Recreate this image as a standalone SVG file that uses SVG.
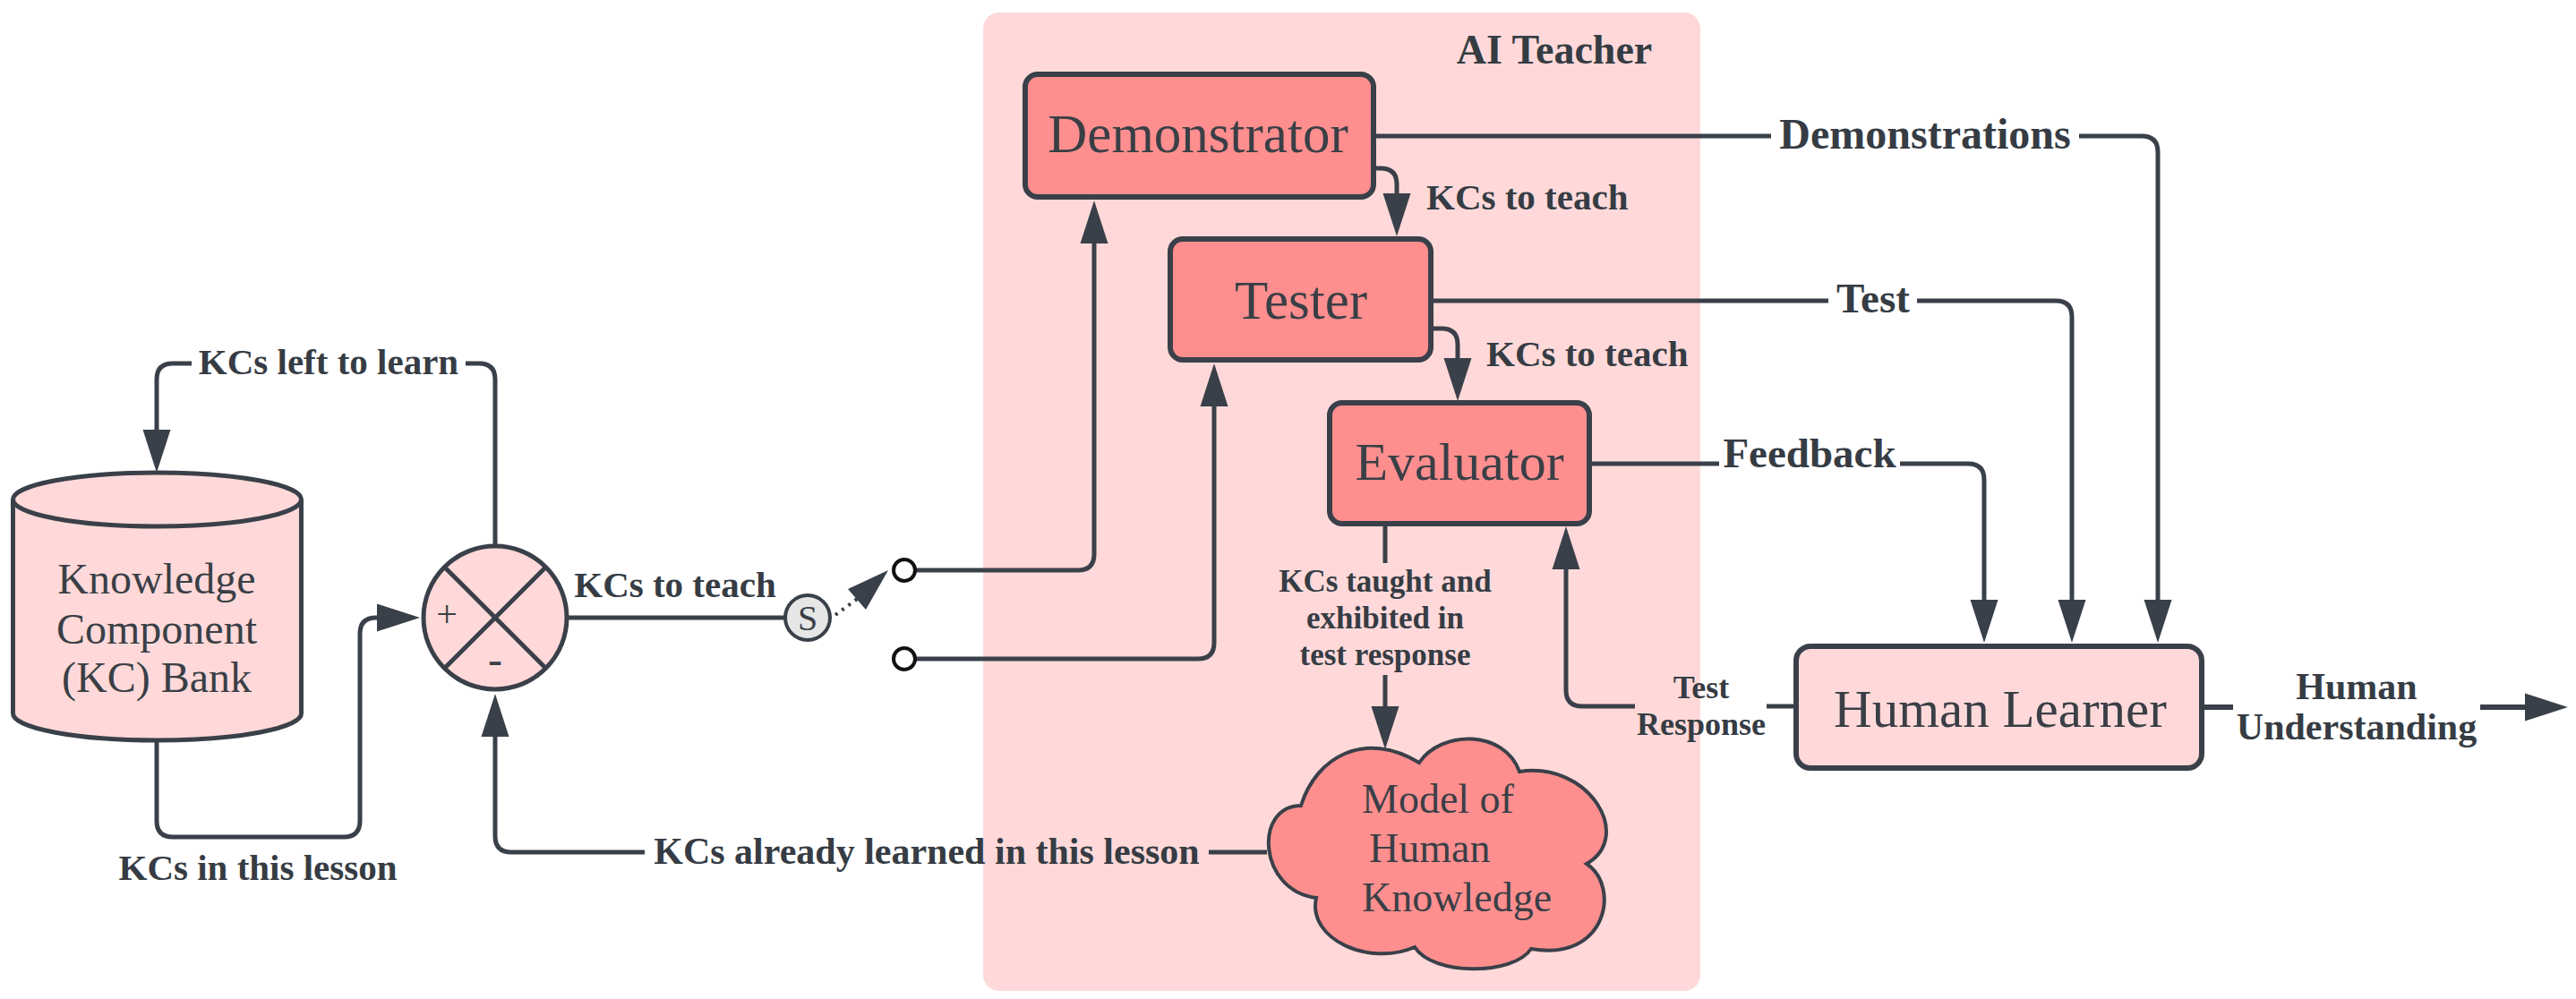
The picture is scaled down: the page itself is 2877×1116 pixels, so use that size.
<svg xmlns="http://www.w3.org/2000/svg" width="2877" height="1116" viewBox="0 0 2877 1116">
<defs>
<style>
.ln{fill:none;stroke:#3a4049;stroke-width:5;stroke-linejoin:round}
.ar{marker-end:url(#ah)}
.lbl{font-family:"Liberation Serif",serif;font-weight:bold;fill:#363c44;text-anchor:middle}
.nt{font-family:"Liberation Serif",serif;fill:#3a3f46;text-anchor:middle}
.box{fill:#ff8f8f;stroke:#3a4049;stroke-width:6}
.pink{fill:#ffd9d9;stroke:#3a4049;stroke-width:5}
.contact{fill:#ffffff;stroke:#111111;stroke-width:4}
</style>
<marker id="ah" markerUnits="userSpaceOnUse" markerWidth="50" markerHeight="32" refX="28" refY="15.5" orient="auto" overflow="visible">
<path d="M0 0 L48 15.5 L0 31 Z" fill="#3a4049"/>
</marker>
</defs>
<rect width="2877" height="1116" fill="#ffffff"/>

<g id="ai-teacher">
<rect x="1098" y="14" width="801" height="1093" rx="18" fill="#ffd9d9"/>
<text class="lbl" x="1736" y="71" font-size="46">AI Teacher</text>
</g>

<g id="connectors">
<!-- KCs left to learn -->
<path class="ln" d="M553 608 V424 Q553 406 535 406 H520"/>
<path class="ln ar" d="M214 406 H193 Q175 406 175 424 V508"/>
<text class="lbl" x="367" y="418" font-size="41">KCs left to learn</text>
<!-- KCs in this lesson -->
<path class="ln ar" d="M175 827 V917 Q175 935 193 935 H384 Q402 935 402 917 V708 Q402 690 420 690 H449"/>
<text class="lbl" x="288" y="983" font-size="41">KCs in this lesson</text>
<!-- KCs already learned -->
<path class="ln" d="M1415 952 H1350"/>
<path class="ln ar" d="M720 952 H571 Q553 952 553 934 V795"/>
<text class="lbl" x="1035" y="965" font-size="42">KCs already learned in this lesson</text>
<!-- KCs to teach to switch -->
<path class="ln" d="M635 690 H876"/>
<text class="lbl" x="754" y="667" font-size="41">KCs to teach</text>
<!-- contacts to Demonstrator / Tester -->
<path class="ln ar" d="M1022 637 H1204 Q1222 637 1222 619 V244"/>
<path class="ln ar" d="M1022 736 H1338 Q1356 736 1356 718 V426"/>
<!-- Demonstrator to Tester -->
<path class="ln ar" d="M1534 188 H1542 Q1560 188 1560 206 V244"/>
<text class="lbl" x="1593" y="234" font-size="41" style="text-anchor:start">KCs to teach</text>
<!-- Tester to Evaluator -->
<path class="ln ar" d="M1598 367 H1610 Q1628 367 1628 385 V428"/>
<text class="lbl" x="1660" y="409" font-size="41" style="text-anchor:start">KCs to teach</text>
<!-- Demonstrations -->
<path class="ln" d="M1534 152 H1978"/>
<path class="ln ar" d="M2322 152 H2392 Q2410 152 2410 170 V698"/>
<text class="lbl" x="2150" y="166" font-size="48">Demonstrations</text>
<!-- Test -->
<path class="ln" d="M1598 336 H2042"/>
<path class="ln ar" d="M2141 336 H2296 Q2314 336 2314 354 V698"/>
<text class="lbl" x="2092" y="349" font-size="47">Test</text>
<!-- Feedback -->
<path class="ln" d="M1775 518 H1920"/>
<path class="ln ar" d="M2122 518 H2198 Q2216 518 2216 536 V698"/>
<text class="lbl" x="2021" y="522" font-size="47">Feedback</text>
<!-- KCs taught and exhibited -->
<path class="ln" d="M1547 586 V629"/>
<path class="ln ar" d="M1547 754 V817"/>
<text class="lbl" font-size="35"><tspan x="1547" y="661">KCs taught and</tspan><tspan x="1547" y="702">exhibited in</tspan><tspan x="1547" y="743">test response</tspan></text>
<!-- Test Response -->
<path class="ln" d="M2006 789 H1973"/>
<path class="ln ar" d="M1826 789 H1767 Q1749 789 1749 771 V608"/>
<text class="lbl" font-size="36"><tspan x="1900" y="780">Test</tspan><tspan x="1900" y="821">Response</tspan></text>
<!-- Human Understanding -->
<path class="ln" style="stroke-width:6" d="M2459 790 H2494"/>
<path class="ln ar" style="stroke-width:6" d="M2770 790 H2848"/>
<text class="lbl" font-size="42"><tspan x="2632" y="781">Human</tspan><tspan x="2632" y="826">Understanding</tspan></text>
</g>

<g id="kc-bank">
<path class="pink" d="M14.5 558 A161 30 0 0 1 336.5 558 V797 A161 30 0 0 1 14.5 797 Z"/>
<path class="ln" d="M14.5 558 A161 30 0 0 0 336.5 558"/>
<text class="nt" font-size="48"><tspan x="175" y="663">Knowledge</tspan><tspan x="175" y="719">Component</tspan><tspan x="175" y="773">(KC) Bank</tspan></text>
</g>

<g id="junction">
<circle class="pink" cx="553" cy="690" r="80"/>
<path class="ln" d="M496.4 633.4 L609.6 746.6 M609.6 633.4 L496.4 746.6"/>
<text class="nt" x="499" y="700" font-size="42">+</text>
<text class="nt" x="553" y="753" font-size="48">-</text>
</g>

<g id="switch">
<circle cx="902" cy="690" r="25" fill="#e6e6e6" stroke="#3a4049" stroke-width="4"/>
<text class="nt" x="902" y="704" font-size="40">S</text>
<path d="M933 687 L960 667" fill="none" stroke="#3a4049" stroke-width="4" stroke-dasharray="3 6"/>
<polygon points="992,637 947,658 967,681" fill="#3a4049"/>
<circle class="contact" cx="1010" cy="637" r="12"/>
<circle class="contact" cx="1010" cy="736" r="12"/>
</g>

<g id="demonstrator">
<rect class="box" x="1145" y="83" width="389" height="137" rx="14"/>
<text class="nt" x="1338" y="170" font-size="61">Demonstrator</text>
</g>

<g id="tester">
<rect class="box" x="1307" y="267" width="291" height="135" rx="14"/>
<text class="nt" x="1453" y="356" font-size="61">Tester</text>
</g>

<g id="evaluator">
<rect class="box" x="1485" y="450" width="290" height="135" rx="14"/>
<text class="nt" x="1630" y="536" font-size="60">Evaluator</text>
</g>

<g id="model">
<path fill="#ff8f8f" stroke="#3a4049" stroke-width="4" d="M1453 900 C1470 845 1525 815 1585 852 C1610 815 1680 815 1697 862 C1775 850 1825 935 1772 965 C1810 990 1795 1075 1710 1060 C1690 1090 1600 1090 1580 1058 C1530 1080 1460 1050 1470 1003 C1405 995 1400 900 1453 900 Z"/>
<text class="nt" font-size="46" style="text-anchor:start"><tspan x="1521" y="908">Model of</tspan><tspan x="1529" y="963">Human</tspan><tspan x="1521" y="1018">Knowledge</tspan></text>
</g>

<g id="human-learner">
<rect class="pink" style="stroke-width:6" x="2006" y="722" width="453" height="136" rx="16"/>
<text class="nt" x="2234" y="812" font-size="59">Human Learner</text>
</g>
</svg>
